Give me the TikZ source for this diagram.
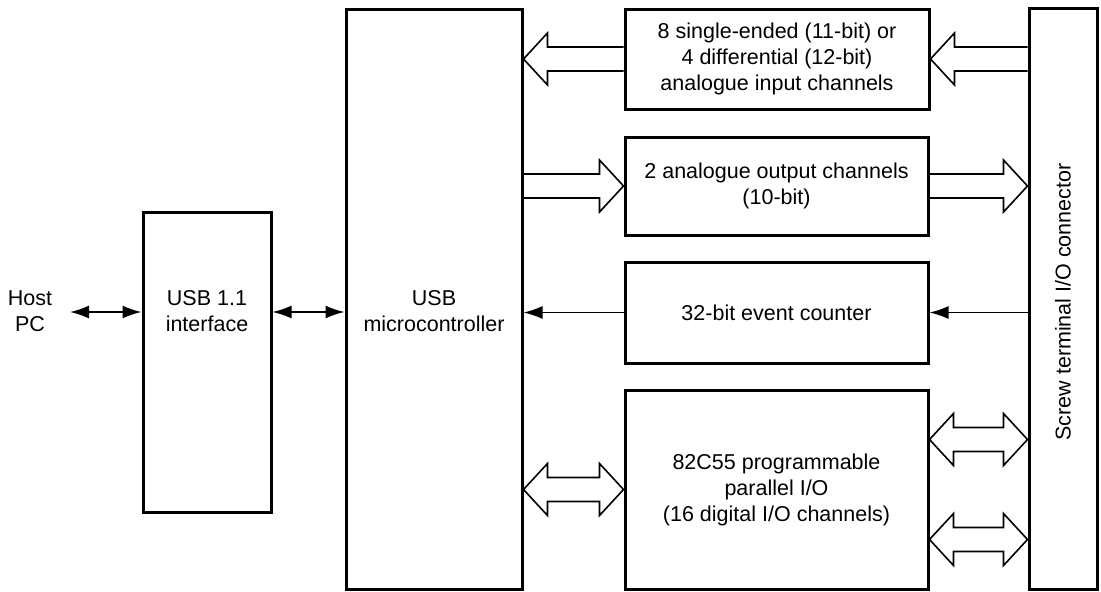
\documentclass[tikz,border=0pt]{standalone}
\usepackage{fontspec}
\setmainfont{Liberation Sans}
\usetikzlibrary{arrows.meta,calc}
\tikzset{
  blk/.style={draw, line width=3pt, inner sep=0pt, align=center},
  lbl/.style={align=center, inner sep=0pt},
  thin/.style={line width=1.6pt},
  tip/.style={-{Latex[length=19pt,width=13pt]}},
  both/.style={{Latex[length=19pt,width=13pt]}-{Latex[length=19pt,width=13pt]}},
}
% hollow single arrow: tail point, tip point (same height)
\newcommand{\harrow}[2]{%
  \draw[thin, line join=miter] let \p1=(#1), \p2=(#2), \n1={ifthenelse(\x2>\x1,1,-1)} in
    (\x1,\y1+12pt) -- (\x2-\n1*24pt,\y1+12pt) -- (\x2-\n1*24pt,\y1+26pt) -- (\x2,\y1)
    -- (\x2-\n1*24pt,\y1-26pt) -- (\x2-\n1*24pt,\y1-12pt) -- (\x1,\y1-12pt);}
% hollow double arrow: left tip, right tip
\newcommand{\darrow}[2]{%
  \draw[thin, line join=miter] let \p1=(#1), \p2=(#2) in
    (\x1,\y1) -- (\x1+24pt,\y1+26pt) -- (\x1+24pt,\y1+12pt) -- (\x2-24pt,\y1+12pt)
    -- (\x2-24pt,\y1+26pt) -- (\x2,\y1) -- (\x2-24pt,\y1-26pt) -- (\x2-24pt,\y1-12pt)
    -- (\x1+24pt,\y1-12pt) -- (\x1+24pt,\y1-26pt) -- cycle;}
\begin{document}
\begin{tikzpicture}[x=1pt,y=-1pt, font=\fontsize{21.5}{26}\selectfont]
\useasboundingbox (0,0) rectangle (1101,592);
% boxes
\node[blk, minimum width=176pt, minimum height=580pt] (micro) at (434,299) {};
\node[lbl] (microtxt) at (434,311) {USB\\microcontroller};
\node[blk, minimum width=128pt, minimum height=300pt] (usb) at (207,362) {};
\node[lbl] (usbtxt) at (207,311) {USB 1.1\\interface};
\node[lbl] (host) at (30,311) {Host\\PC};
\node[blk, minimum width=304pt, minimum height=100pt] (ain) at (777,59) {8 single-ended (11-bit) or\\4 differential (12-bit)\\analogue input channels};
\node[blk, minimum width=303pt, minimum height=98pt] (aout) at (776.5,186) {2 analogue output channels\\(10-bit)};
\node[blk, minimum width=303pt, minimum height=101pt] (cnt) at (776.5,312.5) {32-bit event counter};
\node[blk, minimum width=303pt, minimum height=199pt] (pio) at (776.5,489.5) {82C55 programmable\\parallel I/O\\(16 digital I/O channels)};
\node[blk, minimum width=68pt, minimum height=581pt] (screw) at (1063,298.5) {};
\node[lbl, rotate=90] (screwtxt) at (1063,302) {Screw terminal I/O connector};
% thin connectors
\coordinate (hp) at (70,312);
\draw[thin, both] (hp) -- (usb.west |- hp);
\draw[thin, both] (usb.east |- hp) -- (micro.west |- hp);
\draw[thin, tip] (screw.west |- cnt.east) -- (cnt.east);
\draw[thin, tip] (cnt.west) -- (micro.east |- cnt.west);
% hollow arrows
\harrow{ain.west}{micro.east |- ain.west}
\harrow{screw.west |- ain.east}{ain.east}
\harrow{micro.east |- aout.west}{aout.west}
\harrow{aout.east}{screw.west |- aout.east}
\darrow{micro.east |- pio.west}{pio.west}
\coordinate (p1) at ($(pio.east)+(0,-50)$);
\coordinate (p2) at ($(pio.east)+(0,50)$);
\darrow{p1}{screw.west |- p1}
\darrow{p2}{screw.west |- p2}
\end{tikzpicture}
\end{document}
